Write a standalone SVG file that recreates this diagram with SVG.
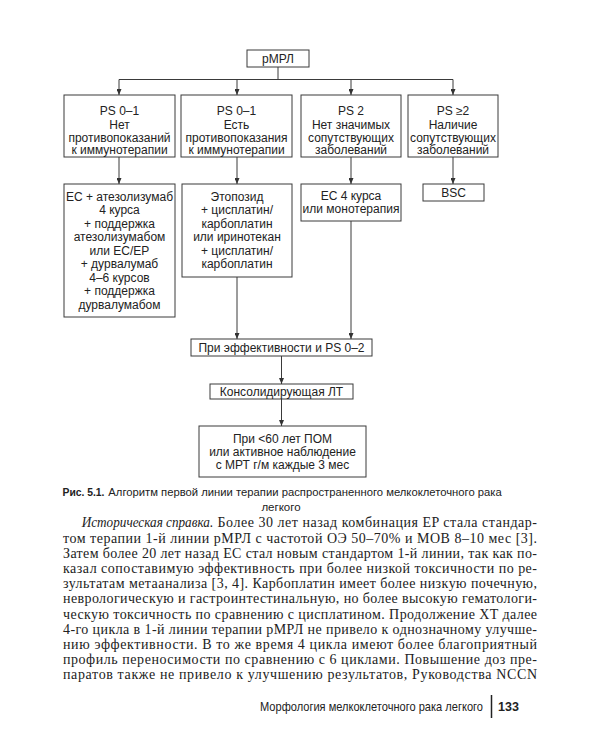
<svg xmlns="http://www.w3.org/2000/svg" width="600" height="750" viewBox="0 0 600 750">
<defs>
<marker id="arr" markerWidth="6" markerHeight="5" viewBox="0 0 6 5" refX="6" refY="2.5" orient="auto" markerUnits="userSpaceOnUse">
<path d="M0,0 L6,2.5 L0,5 z" fill="#333"/>
</marker>
<style>
.box{fill:#fff;stroke:#3a3a3a;stroke-width:1}
.t{font-family:"Liberation Sans",Arial,sans-serif;font-size:12px;fill:#222;text-anchor:middle}
.c{fill:none;stroke:#3a3a3a;stroke-width:1}
.a{marker-end:url(#arr)}
.body{font-family:"Liberation Serif","Times New Roman",serif;font-size:14px;fill:#222}
.cap{font-family:"Liberation Sans",Arial,sans-serif;font-size:11.5px;fill:#222}
.foot{font-family:"Liberation Sans",Arial,sans-serif;font-size:12.5px;fill:#222}
</style>
</defs>
<rect width="600" height="750" fill="#fff"/>

<g id="connectors">
<path class="c" d="M278,67 V79.5"/>
<path class="c" d="M119,79.5 H453"/>
<path class="c a" d="M119,79.5 V95"/>
<path class="c a" d="M237,79.5 V95"/>
<path class="c a" d="M351,79.5 V95"/>
<path class="c a" d="M453,79.5 V95"/>
<path class="c a" d="M119,157 V184"/>
<path class="c a" d="M237,157 V184"/>
<path class="c a" d="M351,157 V184"/>
<path class="c a" d="M453,157 V184"/>
<path class="c a" d="M237,277 V339"/>
<path class="c a" d="M351,221 V339"/>
<path class="c a" d="M281.5,356 V384"/>
<path class="c a" d="M281.5,399 V426"/>
</g>

<g id="n_rmpl">
<rect class="box" x="247" y="50" width="62" height="17"/>
<text class="t" x="278" y="62.5">рМРЛ</text>
</g>

<g id="n_ps01_no">
<rect class="box" x="64" y="95" width="111" height="62"/>
<text class="t" x="119.5" y="115">PS 0–1</text>
<text class="t" x="119.5" y="129">Нет</text>
<text class="t" x="119.5" y="141.5">противопоказаний</text>
<text class="t" x="119.5" y="154">к иммунотерапии</text>
</g>

<g id="n_ps01_yes">
<rect class="box" x="181" y="95" width="111" height="62"/>
<text class="t" x="236.5" y="115">PS 0–1</text>
<text class="t" x="236.5" y="129">Есть</text>
<text class="t" x="236.5" y="141.5">противопоказания</text>
<text class="t" x="236.5" y="154">к иммунотерапии</text>
</g>

<g id="n_ps2">
<rect class="box" x="301" y="95" width="100" height="62"/>
<text class="t" x="351" y="115">PS 2</text>
<text class="t" x="351" y="129">Нет значимых</text>
<text class="t" x="351" y="141.5">сопутствующих</text>
<text class="t" x="351" y="154">заболеваний</text>
</g>

<g id="n_ps2plus">
<rect class="box" x="408" y="95" width="90" height="62"/>
<text class="t" x="453" y="115">PS ≥2</text>
<text class="t" x="453" y="129">Наличие</text>
<text class="t" x="453" y="141.5">сопутствующих</text>
<text class="t" x="453" y="154">заболеваний</text>
</g>

<g id="n_ec_atezo">
<rect class="box" x="64" y="184" width="111" height="133"/>
<text class="t" x="119.5" y="200.5">EC + атезолизумаб</text>
<text class="t" x="119.5" y="214">4 курса</text>
<text class="t" x="119.5" y="227.5">+ поддержка</text>
<text class="t" x="119.5" y="241">атезолизумабом</text>
<text class="t" x="119.5" y="254.5">или EC/EP</text>
<text class="t" x="119.5" y="268">+ дурвалумаб</text>
<text class="t" x="119.5" y="281.5">4–6 курсов</text>
<text class="t" x="119.5" y="295">+ поддержка</text>
<text class="t" x="119.5" y="308.5">дурвалумабом</text>
</g>

<g id="n_etoposide">
<rect class="box" x="182" y="184" width="110" height="93"/>
<text class="t" x="237" y="200.5">Этопозид</text>
<text class="t" x="237" y="214">+ цисплатин/</text>
<text class="t" x="237" y="227.5">карбоплатин</text>
<text class="t" x="237" y="241">или иринотекан</text>
<text class="t" x="237" y="254.5">+ цисплатин/</text>
<text class="t" x="237" y="268">карбоплатин</text>
</g>

<g id="n_ec4">
<rect class="box" x="301" y="184" width="100" height="37"/>
<text class="t" x="351" y="199.5">EC 4 курса</text>
<text class="t" x="351" y="213">или монотерапия</text>
</g>

<g id="n_bsc">
<rect class="box" x="423" y="184" width="61" height="17"/>
<text class="t" x="453.5" y="196.5">BSC</text>
</g>

<g id="n_eff">
<rect class="box" x="191" y="339" width="181" height="17"/>
<text class="t" x="281.5" y="351.5">При эффективности и PS 0–2</text>
</g>

<g id="n_consol">
<rect class="box" x="210" y="384" width="143" height="15"/>
<text class="t" x="281.5" y="396">Консолидирующая ЛТ</text>
</g>

<g id="n_final">
<rect class="box" x="199" y="426" width="167" height="51"/>
<text class="t" x="282.5" y="443">При &lt;60 лет ПОМ</text>
<text class="t" x="282.5" y="456">или активное наблюдение</text>
<text class="t" x="282.5" y="469">с МРТ г/м каждые 3 мес</text>
</g>

<text class="cap" x="62.5" y="496" font-weight="bold" textLength="42" lengthAdjust="spacingAndGlyphs">Рис. 5.1.</text>
<text class="cap" x="108.3" y="496" textLength="393.5" lengthAdjust="spacingAndGlyphs">Алгоритм первой линии терапии распространенного мелкоклеточного рака</text>
<text class="cap" x="281" y="511" text-anchor="middle">легкого</text>

<text class="body" x="81.7" y="527" font-style="italic" textLength="131.5" lengthAdjust="spacingAndGlyphs">Историческая справка.</text>
<text class="body" x="217.5" y="527" textLength="319.5" lengthAdjust="spacing">Более 30 лет назад комбинация EP стала стандар-</text>
<text class="body" x="63" y="542.5" textLength="474" lengthAdjust="spacing">том терапии 1-й линии рМРЛ с частотой ОЭ 50–70% и МОВ 8–10 мес [3].</text>
<text class="body" x="63" y="557.7" textLength="474" lengthAdjust="spacing">Затем более 20 лет назад EC стал новым стандартом 1-й линии, так как по-</text>
<text class="body" x="63" y="572.9" textLength="474" lengthAdjust="spacing">казал сопоставимую эффективность при более низкой токсичности по ре-</text>
<text class="body" x="63" y="588.1" textLength="474" lengthAdjust="spacing">зультатам метаанализа [3, 4]. Карбоплатин имеет более низкую почечную,</text>
<text class="body" x="63" y="603.3" textLength="474" lengthAdjust="spacing">неврологическую и гастроинтестинальную, но более высокую гематологи-</text>
<text class="body" x="63" y="618.5" textLength="474" lengthAdjust="spacing">ческую токсичность по сравнению с цисплатином. Продолжение XT далее</text>
<text class="body" x="63" y="633.7" textLength="474" lengthAdjust="spacing">4-го цикла в 1-й линии терапии рМРЛ не привело к однозначному улучше-</text>
<text class="body" x="63" y="648.9" textLength="474" lengthAdjust="spacing">нию эффективности. В то же время 4 цикла имеют более благоприятный</text>
<text class="body" x="63" y="664.1" textLength="474" lengthAdjust="spacing">профиль переносимости по сравнению с 6 циклами. Повышение доз пре-</text>
<text class="body" x="63" y="679.3" textLength="474" lengthAdjust="spacing">паратов также не привело к улучшению результатов, Руководства NCCN</text>

<text class="foot" transform="translate(260,711) scale(0.84,1)" x="0" y="0" textLength="265.5" lengthAdjust="spacingAndGlyphs">Морфология мелкоклеточного рака легкого</text>
<path d="M491.5,695 V718" stroke="#222" stroke-width="1.5"/>
<text class="foot" x="498" y="711" font-weight="bold">133</text>
</svg>
